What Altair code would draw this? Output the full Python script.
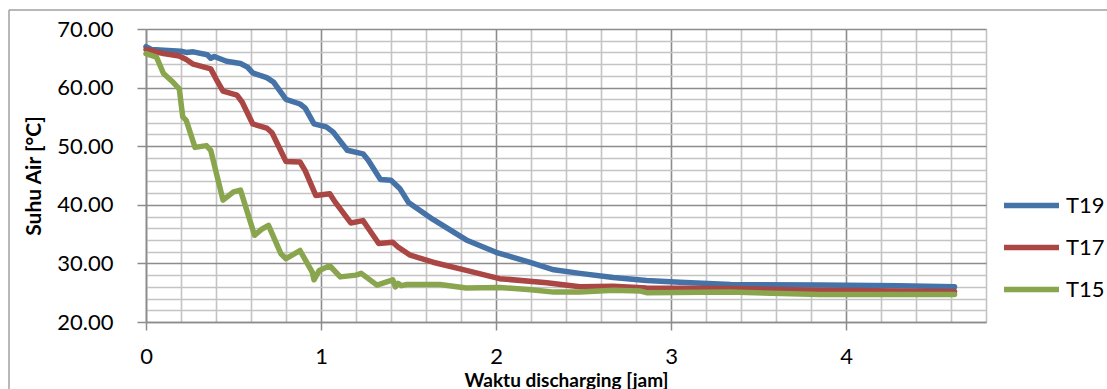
import altair as alt
import pandas as pd

# Water temperature during discharging, three sensors (hours, deg C)
t19_time = [0, 0.03, 0.2, 0.23, 0.27, 0.35, 0.37, 0.39, 0.46, 0.54, 0.58, 0.61, 0.69, 0.73,
            0.80, 0.88, 0.91, 0.96, 1.03, 1.07, 1.15, 1.24, 1.27, 1.34, 1.40, 1.45, 1.50,
            1.64, 1.83, 2.0, 2.19, 2.33, 2.48, 2.67, 2.86, 3.05, 3.34, 3.85, 4.3, 4.62]
t19_temp = [67.0, 66.5, 66.2, 66.0, 66.1, 65.6, 65.0, 65.3, 64.5, 64.1, 63.5, 62.5, 61.7, 60.9,
            58.0, 57.2, 56.5, 53.8, 53.3, 52.4, 49.3, 48.7, 47.6, 44.3, 44.2, 42.8, 40.4,
            37.5, 34.0, 31.9, 30.2, 28.9, 28.3, 27.6, 27.1, 26.8, 26.4, 26.3, 26.2, 26.0]

t17_time = [0, 0.1, 0.19, 0.23, 0.27, 0.37, 0.40, 0.44, 0.52, 0.55, 0.61, 0.69, 0.72, 0.80,
            0.88, 0.91, 0.97, 1.05, 1.08, 1.17, 1.24, 1.27, 1.33, 1.41, 1.44, 1.51, 1.64,
            1.83, 2.02, 2.29, 2.48, 2.67, 2.86, 3.34, 3.85, 4.62]
t17_temp = [66.5, 65.8, 65.4, 64.8, 64.0, 63.2, 61.5, 59.4, 58.7, 57.5, 53.8, 53.1, 52.3, 47.4,
            47.3, 45.8, 41.6, 41.9, 40.5, 36.9, 37.3, 36.0, 33.4, 33.6, 32.8, 31.4, 30.2,
            28.8, 27.4, 26.7, 26.0, 26.1, 25.8, 25.7, 25.4, 25.2]

t15_time = [0, 0.06, 0.10, 0.155, 0.19, 0.21, 0.23, 0.28, 0.345, 0.37, 0.44, 0.50, 0.54,
            0.62, 0.66, 0.70, 0.77, 0.80, 0.88, 0.95, 0.96, 0.99, 1.05, 1.11, 1.2, 1.23,
            1.32, 1.38, 1.41, 1.425, 1.44, 1.46, 1.49, 1.68, 1.83, 2.02, 2.2, 2.33, 2.48,
            2.67, 2.82, 2.86, 3.34, 3.85, 4.62]
t15_temp = [65.8, 65.2, 62.4, 60.9, 59.8, 55.0, 54.4, 49.8, 50.1, 49.3, 40.8, 42.2, 42.5,
            34.8, 35.8, 36.5, 31.7, 30.8, 32.2, 28.5, 27.2, 28.8, 29.6, 27.7, 28.0, 28.3,
            26.3, 26.9, 27.2, 26.0, 26.6, 26.2, 26.4, 26.4, 25.8, 25.9, 25.5, 25.1, 25.1,
            25.4, 25.3, 25.0, 25.1, 24.7, 24.7]

series_names = ["T19", "T17", "T15"]
series_colors = ["#4572A7", "#AA4643", "#89A54E"]

x_grid = [round(i * 0.2, 1) for i in range(25)]
y_grid = list(range(20, 71, 2))

frames = []
for name, tt, vv in [("T19", t19_time, t19_temp),
                     ("T17", t17_time, t17_temp),
                     ("T15", t15_time, t15_temp)]:
    frames.append(pd.DataFrame({"jam": tt, "suhu": vv, "seri": name}))
df = pd.concat(frames, ignore_index=True)
df["urut"] = df["seri"].map({n: i for i, n in enumerate(series_names)})

FONT = "Lato"
MAJOR = "#8c8c8c"
MINOR = "#c4c4c4"

x_axis = alt.Axis(
    values=x_grid,
    format=".0f",
    labelExpr="datum.value % 1 === 0 ? datum.label : ''",
    grid=True,
    gridColor=alt.condition("datum.value % 1 === 0", alt.value(MAJOR), alt.value(MINOR)),
    gridWidth=1.6,
    tickOpacity=alt.condition("datum.value % 1 === 0", alt.value(1), alt.value(0)),
    tickColor=MAJOR, tickSize=8, tickWidth=1.5,
    domainColor=MAJOR, domainWidth=1.6,
    labelFont=FONT, labelFontSize=22, labelColor="#000000", labelPadding=16,
    labelFlush=False,
    title="Waktu discharging [jam]",
    titleFont=FONT, titleFontSize=19, titleFontWeight="bold", titleColor="#000000",
    titleBaseline="alphabetic", titleY=64,
)

y_axis = alt.Axis(
    values=y_grid,
    format=".2f",
    labelExpr="datum.value % 10 === 0 ? datum.label : ''",
    grid=True,
    gridColor=alt.condition("datum.value % 10 === 0", alt.value(MAJOR), alt.value(MINOR)),
    gridWidth=1.6,
    tickOpacity=alt.condition("datum.value % 10 === 0", alt.value(1), alt.value(0)),
    tickColor=MAJOR, tickSize=9, tickWidth=1.5,
    domainColor=MAJOR, domainWidth=1.6,
    labelFont=FONT, labelFontSize=22, labelColor="#000000", labelPadding=24,
    labelFlush=False,
    title="Suhu Air [\u00b0C]",
    titleFont=FONT, titleFontSize=21, titleFontWeight="bold", titleColor="#000000",
    titleBaseline="alphabetic", titleX=-106, titleAngle=270,
)

lines = alt.Chart(df).mark_line(strokeWidth=5.5, strokeJoin="round", strokeCap="round").encode(
    x=alt.X("jam:Q", scale=alt.Scale(domain=[0, 4.8], nice=False, zero=False), axis=x_axis),
    y=alt.Y("suhu:Q", scale=alt.Scale(domain=[20, 70], nice=False, zero=False), axis=y_axis),
    color=alt.Color(
        "seri:N",
        scale=alt.Scale(domain=series_names, range=series_colors),
        legend=alt.Legend(
            title=None, orient="none", legendX=855, legendY=146,
            symbolType="stroke", symbolSize=3025, symbolStrokeWidth=5.5,
            labelFont=FONT, labelFontSize=22, labelColor="#000000",
            labelOffset=4, rowPadding=-2,
        ),
    ),
    order=alt.Order("urut:Q"),
    detail="seri:N",
)

# Outer chart frame
frame_left = alt.Chart(pd.DataFrame({"k": [0]})).mark_rule(color="#a0a0a0", strokeWidth=1.5).encode(
    x=alt.value(-137), y=alt.value(-19), y2=alt.value(400)
)
frame_top = alt.Chart(pd.DataFrame({"k": [0]})).mark_rule(color="#a0a0a0", strokeWidth=1.5).encode(
    x=alt.value(-137), x2=alt.value(1000), y=alt.value(-19)
)

chart = alt.layer(frame_left, frame_top, lines).properties(
    width=840, height=293,
    autosize=alt.AutoSizeParams(type="none"),
    padding={"left": 146, "top": 29, "right": 121, "bottom": 67},
    background="white",
).configure_view(stroke=None)

chart.save("out.html", embed_options={"renderer": "svg", "actions": False})
